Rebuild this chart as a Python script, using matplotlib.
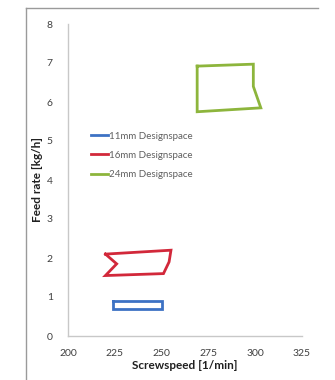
import matplotlib
matplotlib.use("Agg")
import matplotlib.pyplot as plt
from matplotlib.lines import Line2D

# Design-space outlines (screw speed [1/min], feed rate [kg/h])
speed_11 = [224, 250, 250, 224, 224]
feed_11 = [0.9, 0.9, 0.7, 0.7, 0.9]

speed_16 = [220, 255, 254, 251, 220, 226, 220]
feed_16 = [2.1, 2.2, 1.9, 1.6, 1.55, 1.85, 2.1]

speed_24 = [269, 299, 299, 303, 269, 269]
feed_24 = [6.92, 6.97, 6.4, 5.85, 5.75, 6.92]

labels = ["11mm Designspace", "16mm Designspace", "24mm Designspace"]
colors = ["#3D72C4", "#D2283A", "#8DB53C"]
x_ticks = [200, 225, 250, 275, 300, 325]
y_ticks = [0, 1, 2, 3, 4, 5, 6, 7, 8]

plt.rcParams["font.family"] = ["Lato", "DejaVu Sans"]

fig = plt.figure(figsize=(3.35, 3.8), dpi=100)

# outer chart frame
fig.add_artist(Line2D([26 / 335, 26 / 335], [0, 1 - 8 / 380], color="#9a9a9a", lw=1.0))
fig.add_artist(Line2D([26 / 335, 318 / 335], [1 - 8 / 380, 1 - 8 / 380], color="#9a9a9a", lw=1.0))

ax = fig.add_axes([68 / 335, 1 - 336 / 380, 234 / 335, 312 / 380])

for xs, ys, c, lab in zip([speed_11, speed_16, speed_24],
                          [feed_11, feed_16, feed_24], colors, labels):
    ax.plot(xs, ys, color=c, lw=2.0, label=lab, solid_joinstyle="miter")

ax.set_xlim(200, 325)
ax.set_ylim(0, 8)
ax.set_xticks(x_ticks)
ax.set_yticks(y_ticks)
ax.tick_params(length=0, labelsize=7.5, colors="#404040")
ax.tick_params(axis="x", pad=9)
ax.tick_params(axis="y", pad=11)

for side in ["top", "right"]:
    ax.spines[side].set_visible(False)
for side in ["left", "bottom"]:
    ax.spines[side].set_color("#c8c8c8")
    ax.spines[side].set_linewidth(1.0)

ax.set_xlabel("Screwspeed [1/min]", fontsize=8.5, fontweight="bold", color="#202020", labelpad=2)
ax.set_ylabel("Feed rate [kg/h]", fontsize=8.5, fontweight="bold", color="#202020", labelpad=3)

leg = ax.legend(loc="upper left", bbox_to_anchor=(0.10, 0.655), frameon=False,
                fontsize=7, handlelength=1.7, handletextpad=0.1, labelspacing=1.05,
                borderpad=0, borderaxespad=0)
for t in leg.get_texts():
    t.set_color("#606060")

fig.savefig("out.png", dpi=100)
